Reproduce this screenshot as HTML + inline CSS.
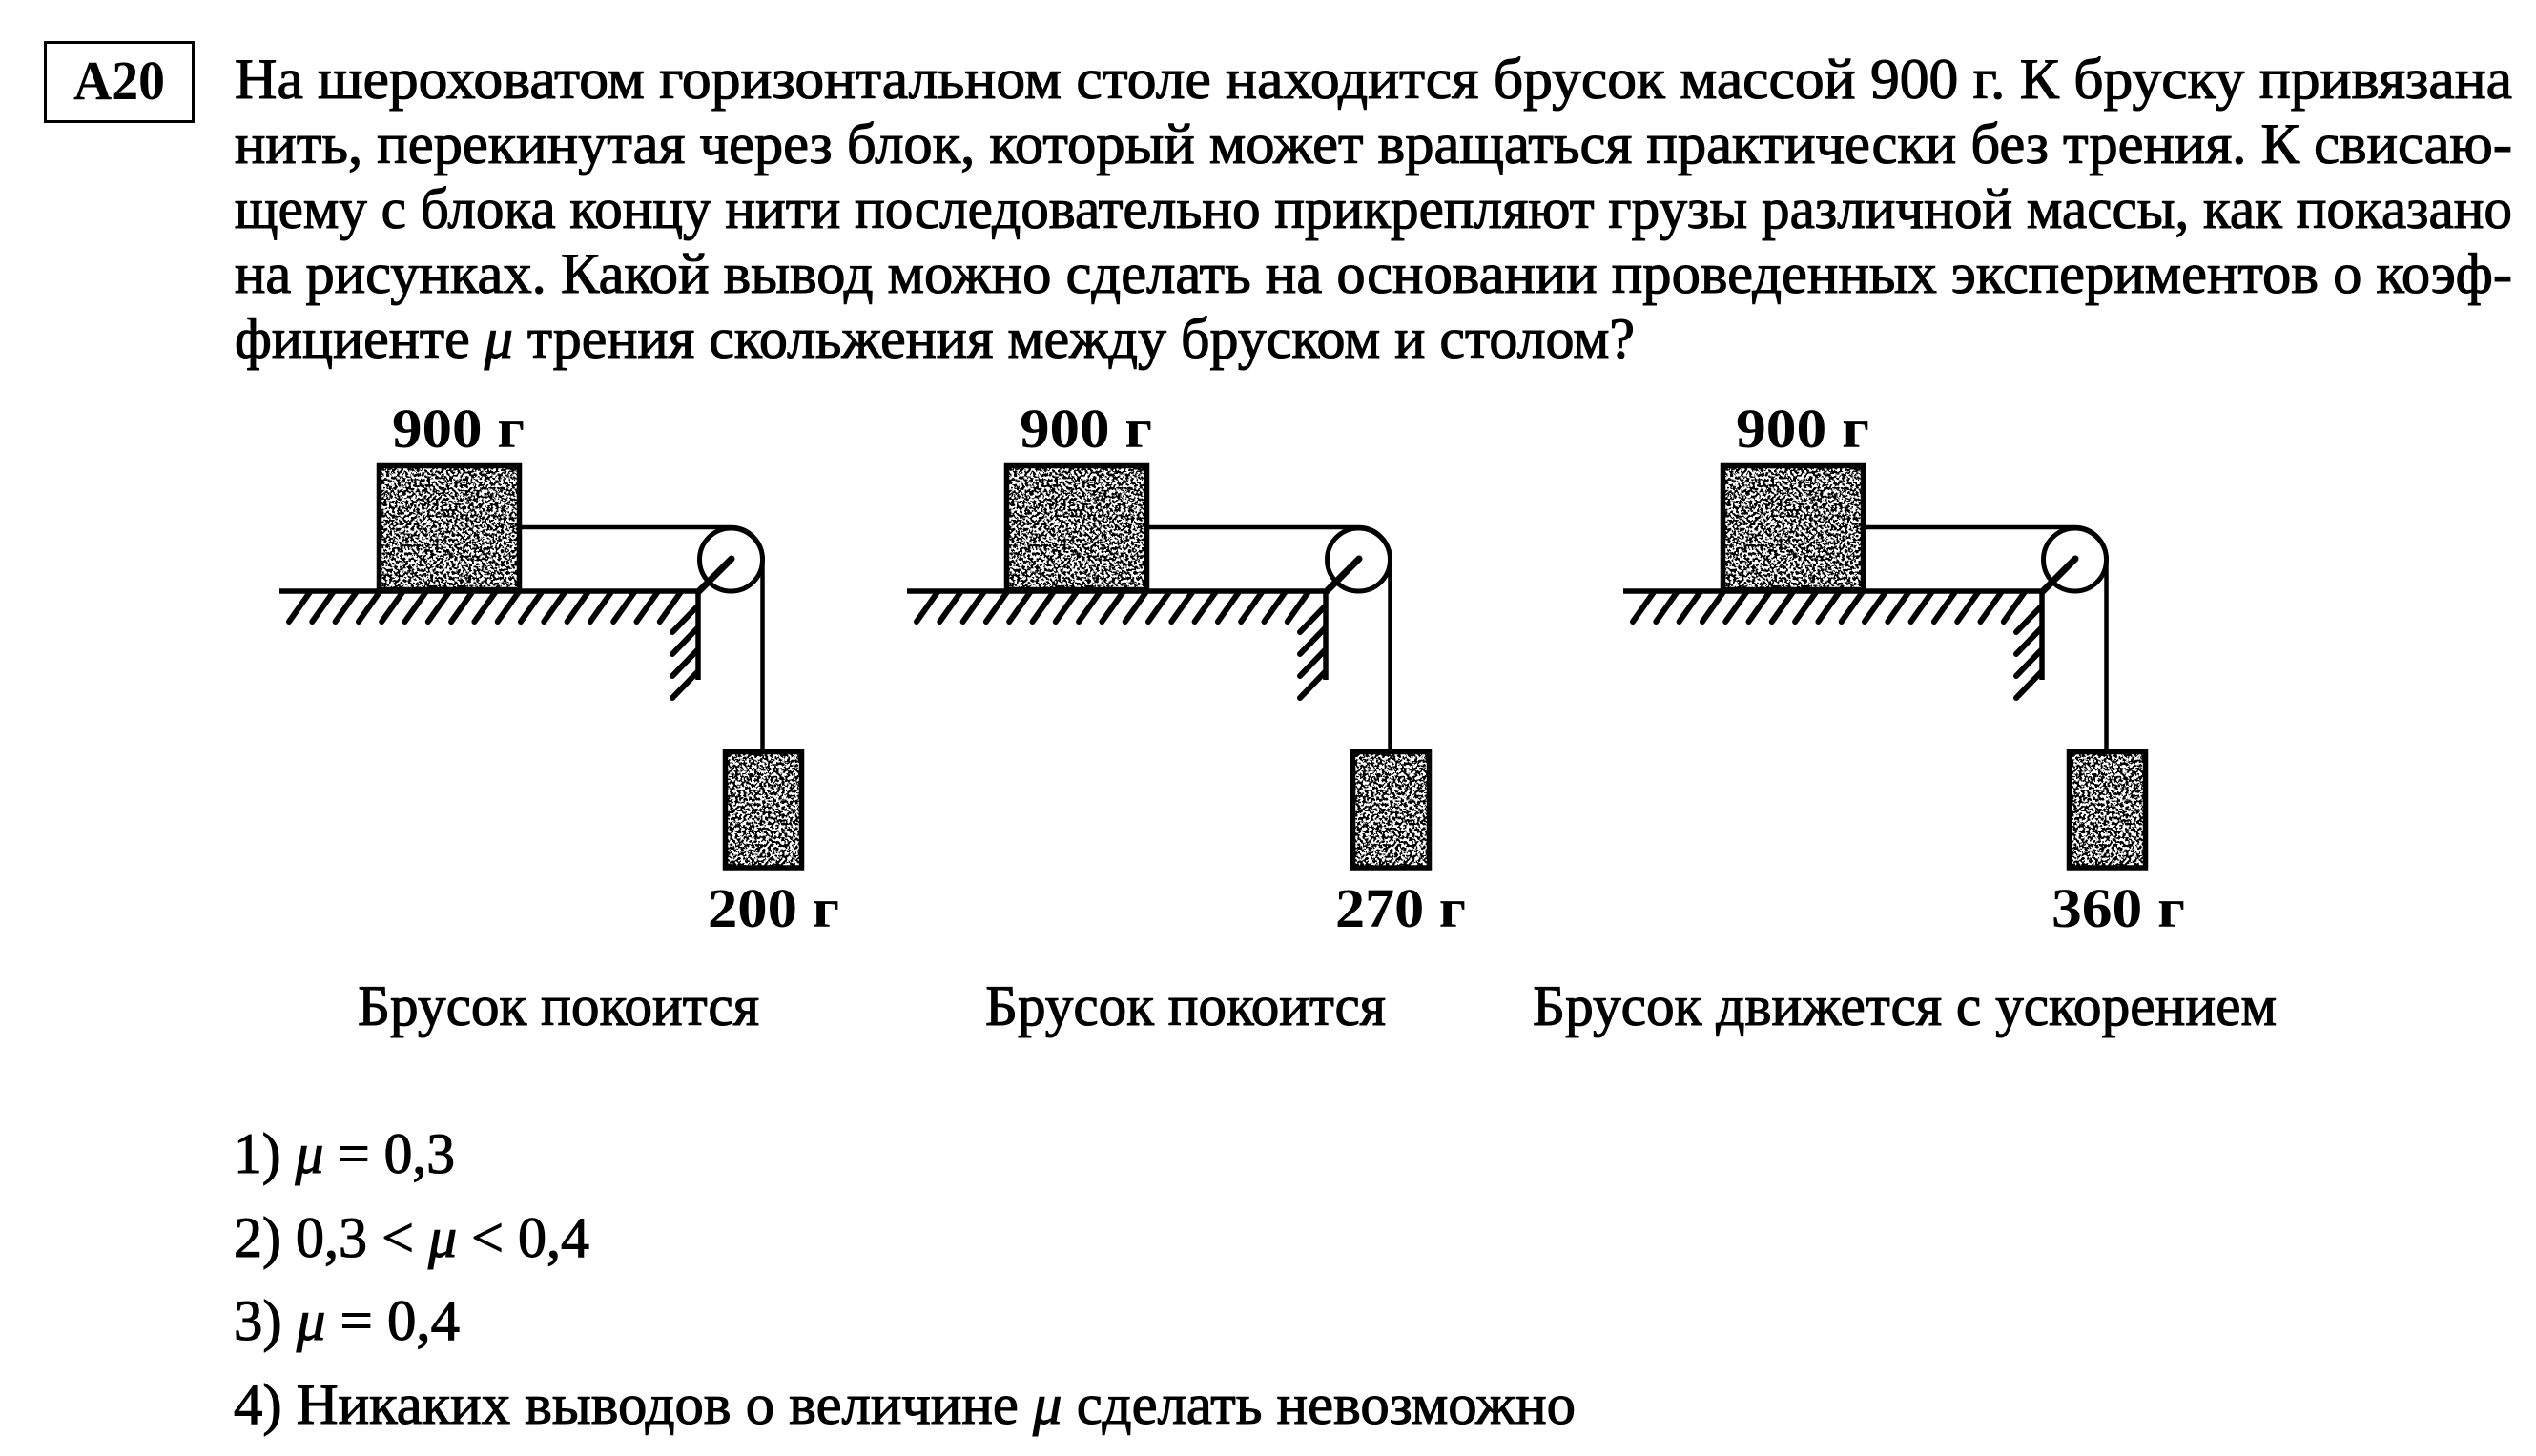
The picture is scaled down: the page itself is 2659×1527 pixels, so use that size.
<!DOCTYPE html>
<html>
<head>
<meta charset="utf-8">
<style>
html,body{margin:0;padding:0;background:#fff;width:2659px;height:1527px;overflow:hidden}
svg{display:block}
.t{font-family:"Liberation Serif","DejaVu Serif",serif;font-size:60px;fill:#000;stroke:#000;stroke-width:1.1}
.b{font-family:"Liberation Serif","DejaVu Serif",serif;font-size:58px;font-weight:bold;fill:#000}
.i{font-style:italic}
</style>
</head>
<body>
<svg width="2659" height="1527" viewBox="0 0 2659 1527" xmlns="http://www.w3.org/2000/svg">
<defs>
<filter id="sp" x="0" y="0" width="1" height="1" filterUnits="objectBoundingBox">
  <feTurbulence type="fractalNoise" baseFrequency="0.35" numOctaves="2" seed="7" result="n"/>
  <feColorMatrix in="n" type="matrix" values="0 0 0 0 0  0 0 0 0 0  0 0 0 0 0  1.6 0 0 0 -0.3" result="a"/>
  <feComponentTransfer in="a" result="d"><feFuncA type="discrete" tableValues="0 1"/></feComponentTransfer>
  <feComposite in="d" in2="SourceGraphic" operator="in"/>
</filter>
<g id="diag">
  <rect x="397" y="488" width="148" height="131" fill="#000" filter="url(#sp)"/>
  <rect x="760" y="788" width="81" height="122" fill="#000" filter="url(#sp)"/>
  <rect x="397.5" y="488.5" width="147" height="130" fill="none" stroke="#000" stroke-width="5.5"/>
  <rect x="760.5" y="788.5" width="80" height="121.5" fill="none" stroke="#000" stroke-width="5.5"/>
  <line x1="293" y1="620" x2="735" y2="620" stroke="#000" stroke-width="5.5"/>
  <line x1="732" y1="618" x2="732" y2="713" stroke="#000" stroke-width="5.5"/>
  <path d="M325,621 L303,652 M349.3,621 L327.3,652 M373.6,621 L351.6,652 M397.9,621 L375.9,652 M422.2,621 L400.2,652 M446.5,621 L424.5,652 M470.8,621 L448.8,652 M495.1,621 L473.1,652 M519.4,621 L497.4,652 M543.7,621 L521.7,652 M568,621 L546,652 M592.3,621 L570.3,652 M616.6,621 L594.6,652 M640.9,621 L618.9,652 M665.2,621 L643.2,652 M689.5,621 L667.5,652 M713.8,621 L691.8,652 M731,636 L705,663 M731,659 L705,686 M731,682 L705,709 M731,705 L705,732" stroke="#000" stroke-width="6" stroke-linecap="round" fill="none"/>
  <circle cx="766.5" cy="587" r="33" fill="none" stroke="#000" stroke-width="5"/>
  <path d="M547,553 H766.5 A33,33 0 0 1 799.5,587 V787" fill="none" stroke="#000" stroke-width="4.5"/>
  <line x1="767" y1="586" x2="733" y2="620" stroke="#000" stroke-width="7" stroke-linecap="round"/>
</g>
</defs>

<!-- header box -->
<rect x="47.5" y="44.5" width="155" height="83" fill="none" stroke="#000" stroke-width="3"/>
<text class="b" x="77" y="104" textLength="96" lengthAdjust="spacingAndGlyphs">A20</text>

<!-- problem text -->
<text class="t" x="246" y="103" textLength="2388" lengthAdjust="spacingAndGlyphs">На шероховатом горизонтальном столе находится брусок массой 900 г. К бруску привязана</text>
<text class="t" x="246" y="171" textLength="2388" lengthAdjust="spacingAndGlyphs">нить, перекинутая через блок, который может вращаться практически без трения. К свисаю-</text>
<text class="t" x="246" y="239" textLength="2388" lengthAdjust="spacingAndGlyphs">щему с блока концу нити последовательно прикрепляют грузы различной массы, как показано</text>
<text class="t" x="246" y="307" textLength="2388" lengthAdjust="spacingAndGlyphs">на рисунках. Какой вывод можно сделать на основании проведенных экспериментов о коэф-</text>
<text class="t" x="246" y="375" textLength="1468" lengthAdjust="spacingAndGlyphs">фициенте <tspan class="i">μ</tspan> трения скольжения между бруском и столом?</text>

<!-- diagrams -->
<use href="#diag" x="0" y="0"/>
<use href="#diag" x="658" y="0"/>
<use href="#diag" x="1409" y="0"/>

<text class="b" x="411" y="469" textLength="139" lengthAdjust="spacingAndGlyphs">900 г</text>
<text class="b" x="1069" y="469" textLength="139" lengthAdjust="spacingAndGlyphs">900 г</text>
<text class="b" x="1820" y="469" textLength="140" lengthAdjust="spacingAndGlyphs">900 г</text>

<text class="b" x="742" y="972" textLength="138" lengthAdjust="spacingAndGlyphs">200 г</text>
<text class="b" x="1400" y="972" textLength="137" lengthAdjust="spacingAndGlyphs">270 г</text>
<text class="b" x="2151" y="972" textLength="140" lengthAdjust="spacingAndGlyphs">360 г</text>

<text class="t" x="375" y="1075" textLength="421" lengthAdjust="spacingAndGlyphs">Брусок покоится</text>
<text class="t" x="1033" y="1075" textLength="420" lengthAdjust="spacingAndGlyphs">Брусок покоится</text>
<text class="t" x="1607" y="1075" textLength="780" lengthAdjust="spacingAndGlyphs">Брусок движется с ускорением</text>

<!-- answers -->
<text class="t" x="245" y="1230" textLength="232" lengthAdjust="spacingAndGlyphs">1) <tspan class="i">μ</tspan> = 0,3</text>
<text class="t" x="245" y="1318" textLength="373" lengthAdjust="spacingAndGlyphs">2) 0,3 &lt; <tspan class="i">μ</tspan> &lt; 0,4</text>
<text class="t" x="245" y="1405" textLength="237" lengthAdjust="spacingAndGlyphs">3) <tspan class="i">μ</tspan> = 0,4</text>
<text class="t" x="245" y="1493" textLength="1407" lengthAdjust="spacingAndGlyphs">4) Никаких выводов о величине <tspan class="i">μ</tspan> сделать невозможно</text>
</svg>
</body>
</html>
